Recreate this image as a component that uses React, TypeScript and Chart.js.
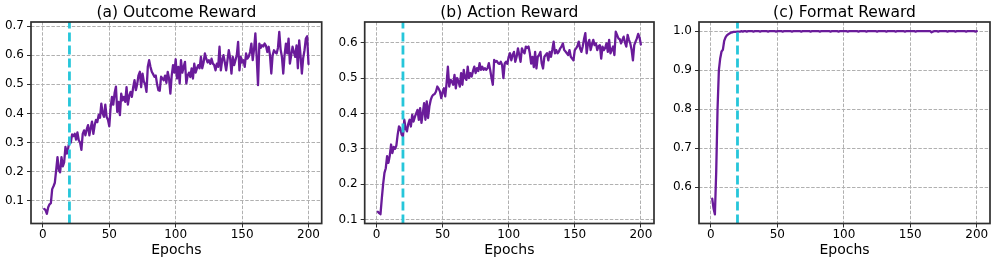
import React, { useEffect, useRef } from "react";
import { Chart, registerables } from "chart.js";

Chart.register(...registerables);

// ---------------- data ----------------
const outcomeReward = [
  0.072, 0.068, 0.055, 0.078, 0.088, 0.092, 0.140, 0.150, 0.162, 0.205,
  0.250, 0.205, 0.198, 0.250, 0.218, 0.232, 0.285, 0.262, 0.280, 0.305,
  0.300, 0.328, 0.322, 0.330, 0.310, 0.335, 0.308, 0.300, 0.275, 0.330,
  0.342, 0.325, 0.345, 0.360, 0.325, 0.350, 0.372, 0.330, 0.360, 0.378,
  0.370, 0.395, 0.385, 0.434, 0.400, 0.388, 0.430, 0.388, 0.378, 0.356,
  0.420, 0.457, 0.430, 0.470, 0.492, 0.405, 0.440, 0.394, 0.468, 0.445,
  0.457, 0.440, 0.490, 0.430, 0.460, 0.474, 0.457, 0.490, 0.514, 0.480,
  0.500, 0.531, 0.543, 0.490, 0.537, 0.510, 0.500, 0.474, 0.560, 0.583,
  0.560, 0.543, 0.535, 0.526, 0.530, 0.500, 0.480, 0.478, 0.526, 0.520,
  0.514, 0.530, 0.505, 0.543, 0.520, 0.468, 0.530, 0.566, 0.540, 0.586,
  0.520, 0.560, 0.503, 0.583, 0.540, 0.560, 0.577, 0.503, 0.530, 0.540,
  0.525, 0.555, 0.520, 0.571, 0.540, 0.555, 0.566, 0.555, 0.594, 0.555,
  0.575, 0.606, 0.588, 0.575, 0.583, 0.570, 0.588, 0.571, 0.566, 0.548,
  0.571, 0.560, 0.629, 0.548, 0.583, 0.600, 0.575, 0.548, 0.583, 0.617,
  0.590, 0.537, 0.594, 0.566, 0.583, 0.600, 0.646, 0.548, 0.594, 0.575,
  0.583, 0.560, 0.606, 0.588, 0.595, 0.611, 0.640, 0.583, 0.620, 0.675,
  0.594, 0.497, 0.640, 0.625, 0.634, 0.630, 0.640, 0.632, 0.611, 0.629,
  0.600, 0.537, 0.600, 0.617, 0.610, 0.606, 0.625, 0.680, 0.620, 0.594,
  0.537, 0.600, 0.640, 0.606, 0.657, 0.571, 0.600, 0.629, 0.610, 0.594,
  0.634, 0.555, 0.651, 0.600, 0.537, 0.590, 0.617, 0.657, 0.665, 0.570,
];

const actionReward = [
  0.122, 0.118, 0.115, 0.160, 0.200, 0.232, 0.245, 0.279, 0.260, 0.280,
  0.312, 0.288, 0.305, 0.300, 0.309, 0.340, 0.363, 0.358, 0.340, 0.335,
  0.382, 0.358, 0.349, 0.370, 0.382, 0.363, 0.396, 0.377, 0.390, 0.400,
  0.410, 0.382, 0.415, 0.373, 0.400, 0.429, 0.382, 0.434, 0.387, 0.420,
  0.438, 0.448, 0.453, 0.455, 0.462, 0.476, 0.470, 0.462, 0.443, 0.460,
  0.471, 0.448, 0.485, 0.532, 0.476, 0.495, 0.490, 0.481, 0.509, 0.471,
  0.500, 0.490, 0.476, 0.514, 0.481, 0.523, 0.500, 0.495, 0.532, 0.500,
  0.514, 0.504, 0.520, 0.532, 0.514, 0.528, 0.520, 0.542, 0.523, 0.532,
  0.523, 0.528, 0.523, 0.528, 0.542, 0.523, 0.500, 0.481, 0.551, 0.546,
  0.548, 0.542, 0.540, 0.546, 0.537, 0.500, 0.541, 0.546, 0.540, 0.560,
  0.570, 0.550, 0.565, 0.574, 0.546, 0.560, 0.584, 0.565, 0.546, 0.584,
  0.575, 0.570, 0.589, 0.585, 0.589, 0.570, 0.541, 0.560, 0.531, 0.574,
  0.527, 0.560, 0.565, 0.574, 0.541, 0.527, 0.560, 0.565, 0.570, 0.550,
  0.574, 0.560, 0.580, 0.603, 0.570, 0.579, 0.570, 0.575, 0.584, 0.589,
  0.598, 0.579, 0.575, 0.570, 0.565, 0.579, 0.560, 0.555, 0.550, 0.579,
  0.584, 0.590, 0.603, 0.584, 0.574, 0.589, 0.610, 0.627, 0.570, 0.598,
  0.608, 0.579, 0.595, 0.608, 0.593, 0.598, 0.579, 0.590, 0.593, 0.555,
  0.589, 0.579, 0.585, 0.598, 0.574, 0.608, 0.570, 0.580, 0.589, 0.565,
  0.631, 0.622, 0.612, 0.610, 0.598, 0.608, 0.617, 0.600, 0.589, 0.622,
  0.608, 0.598, 0.580, 0.550, 0.593, 0.603, 0.612, 0.625, 0.615, 0.595,
];

const formatReward = [
  0.570, 0.545, 0.530, 0.640, 0.800, 0.900, 0.930, 0.948, 0.952, 0.975,
  0.984, 0.989, 0.992, 0.994, 0.996, 0.997, 0.998, 0.998, 0.998, 0.999,
  0.999, 0.999, 1.000, 0.999, 1.000, 1.000, 0.999, 1.000, 1.000, 1.000,
  1.000, 0.999, 1.000, 1.000, 1.000, 1.000, 0.999, 1.000, 1.000, 1.000,
  1.000, 1.000, 0.999, 1.000, 1.000, 1.000, 1.000, 1.000, 0.999, 1.000,
  1.000, 1.000, 1.000, 0.999, 1.000, 1.000, 1.000, 1.000, 1.000, 1.000,
  0.999, 1.000, 1.000, 1.000, 1.000, 1.000, 1.000, 0.999, 1.000, 1.000,
  1.000, 1.000, 1.000, 1.000, 0.999, 1.000, 1.000, 1.000, 1.000, 1.000,
  1.000, 0.999, 1.000, 1.000, 1.000, 1.000, 1.000, 1.000, 1.000, 0.999,
  1.000, 1.000, 1.000, 1.000, 1.000, 0.999, 1.000, 1.000, 1.000, 1.000,
  1.000, 1.000, 0.999, 1.000, 1.000, 1.000, 1.000, 1.000, 1.000, 1.000,
  0.999, 1.000, 1.000, 1.000, 1.000, 1.000, 0.999, 1.000, 1.000, 1.000,
  1.000, 1.000, 1.000, 1.000, 0.999, 1.000, 1.000, 1.000, 1.000, 1.000,
  1.000, 0.999, 1.000, 1.000, 1.000, 1.000, 1.000, 1.000, 0.999, 1.000,
  1.000, 1.000, 1.000, 1.000, 1.000, 0.999, 1.000, 1.000, 1.000, 1.000,
  1.000, 1.000, 1.000, 0.999, 1.000, 1.000, 1.000, 1.000, 1.000, 1.000,
  1.000, 1.000, 1.000, 1.000, 1.000, 0.997, 0.999, 1.000, 1.000, 1.000,
  0.999, 1.000, 1.000, 1.000, 1.000, 1.000, 1.000, 0.999, 1.000, 1.000,
  1.000, 1.000, 1.000, 0.999, 1.000, 1.000, 1.000, 1.000, 1.000, 1.000,
  1.000, 0.999, 1.000, 1.000, 1.000, 1.000, 1.000, 1.000, 0.999, 1.000,
];

const epochTicks = [0, 50, 100, 150, 200];
const outcomeTicks = [0.1, 0.2, 0.3, 0.4, 0.5, 0.6, 0.7];
const actionTicks = [0.1, 0.2, 0.3, 0.4, 0.5, 0.6];
const formatTicks = [0.6, 0.7, 0.8, 0.9, 1.0];
const panelTitles = ["(a) Outcome Reward", "(b) Action Reward", "(c) Format Reward"];
const xAxisLabel = "Epochs";
const markerEpoch = 20;

// ---------------- styling / layout ----------------
const FONT = "'DejaVu Sans', 'Liberation Sans', sans-serif";
const LINE_COLOR = "#6a1b9a";
const MARKER_COLOR = "#26c6da";
const GRID_COLOR = "#b0b0b0";
const FRAME_COLOR = "#2e2e2e";
const H = 264;
const AREA_BOTTOM = 223.5;
const X_MIN = -8.95;
const X_MAX = 209.95;

type Panel = {
  title: string;
  values: number[];
  yTicks: number[];
  yMin: number;
  yMax: number;
  left: number;
  width: number;
  areaLeft: number;
  areaRight: number;
};

const panels: Panel[] = [
  { title: panelTitles[0], values: outcomeReward, yTicks: outcomeTicks, yMin: 0.022, yMax: 0.714, left: 0, width: 330, areaLeft: 31, areaRight: 321.7 },
  { title: panelTitles[1], values: actionReward, yTicks: actionTicks, yMin: 0.0887, yMax: 0.6584, left: 330, width: 332, areaLeft: 364.7, areaRight: 654 },
  { title: panelTitles[2], values: formatReward, yTicks: formatTicks, yMin: 0.5065, yMax: 1.0235, left: 662, width: 334, areaLeft: 699, areaRight: 990 },
];

const framePlugin = {
  id: "frame",
  afterDraw(chart: any) {
    const { ctx, chartArea: a } = chart;
    ctx.save();
    ctx.strokeStyle = FRAME_COLOR;
    ctx.lineWidth = 1.7;
    ctx.strokeRect(a.left, a.top, a.right - a.left, a.bottom - a.top);
    ctx.restore();
  },
};

function PanelChart({ p }: { p: Panel }) {
  const ref = useRef<HTMLCanvasElement | null>(null);
  useEffect(() => {
    if (!ref.current) return;
    const epochs = p.values.map((_, i) => i + 1);
    const yAxisWidth = p.areaLeft - p.left;
    const padRight = p.left + p.width - p.areaRight;
    const chart = new Chart(ref.current, {
      type: "line",
      data: {
        datasets: [
          {
            data: p.values.map((v, i) => ({ x: epochs[i], y: v })),
            borderColor: LINE_COLOR,
            borderWidth: 2.3,
            pointRadius: 0,
            tension: 0,
            borderJoinStyle: "round",
            borderCapStyle: "round",
            fill: false,
            order: 1,
          },
          {
            data: [
              { x: markerEpoch, y: p.yMin },
              { x: markerEpoch, y: p.yMax },
            ],
            borderColor: MARKER_COLOR,
            borderWidth: 2.8,
            borderDash: [9, 4],
            pointRadius: 0,
            fill: false,
            order: 0,
          },
        ],
      },
      options: {
        animation: false,
        responsive: false,
        maintainAspectRatio: false,
        events: [],
        layout: { padding: { left: 0, right: padRight, top: 0, bottom: 0 } },
        plugins: {
          legend: { display: false },
          tooltip: { enabled: false },
          title: {
            display: true,
            text: p.title,
            fullSize: false,
            color: "#000",
            font: { family: FONT, size: 15.5, weight: "normal", lineHeight: 1 },
            padding: { top: 4.85, bottom: 22 - 4.85 - 15.5 },
          },
        },
        scales: {
          x: {
            type: "linear",
            min: X_MIN,
            max: X_MAX,
            afterBuildTicks: (s: any) => {
              s.ticks = epochTicks.map((v) => ({ value: v }));
            },
            afterFit: (s: any) => {
              s.height = H - AREA_BOTTOM;
            },
            ticks: {
              color: "#000",
              font: { family: FONT, size: 12, lineHeight: 1 },
              padding: 1,
              maxRotation: 0,
              autoSkip: false,
              callback: (v: any) => String(v),
            },
            grid: {
              color: GRID_COLOR,
              lineWidth: 1,
              tickColor: FRAME_COLOR,
              tickLength: 4,
              tickWidth: 1,
              tickBorderDash: [],
            },
            border: { display: false, dash: [3.5, 1.6] },
            title: {
              display: true,
              text: xAxisLabel,
              color: "#000",
              font: { family: FONT, size: 14, lineHeight: 1.2 },
              padding: { top: 0, bottom: 5.4 },
            },
          },
          y: {
            type: "linear",
            min: p.yMin,
            max: p.yMax,
            afterBuildTicks: (s: any) => {
              s.ticks = p.yTicks.map((v) => ({ value: v }));
            },
            afterFit: (s: any) => {
              s.width = yAxisWidth;
            },
            ticks: {
              color: "#000",
              font: { family: FONT, size: 12, lineHeight: 1 },
              padding: 3,
              autoSkip: false,
              callback: (v: any) => Number(v).toFixed(1),
            },
            grid: {
              color: GRID_COLOR,
              lineWidth: 1,
              tickColor: FRAME_COLOR,
              tickLength: 4,
              tickWidth: 1,
              tickBorderDash: [],
            },
            border: { display: false, dash: [3.5, 1.6] },
          },
        },
      } as any,
      plugins: [framePlugin],
    });
    return () => chart.destroy();
  }, [p]);
  return (
    <canvas
      ref={ref}
      width={p.width}
      height={H}
      style={{ position: "absolute", left: p.left, top: 0, width: p.width, height: H }}
    />
  );
}

export default function App() {
  return (
    <div style={{ position: "absolute", left: 0, top: 0, width: 996, height: H, background: "#fff" }}>
      {panels.map((p) => (
        <PanelChart key={p.title} p={p} />
      ))}
    </div>
  );
}
